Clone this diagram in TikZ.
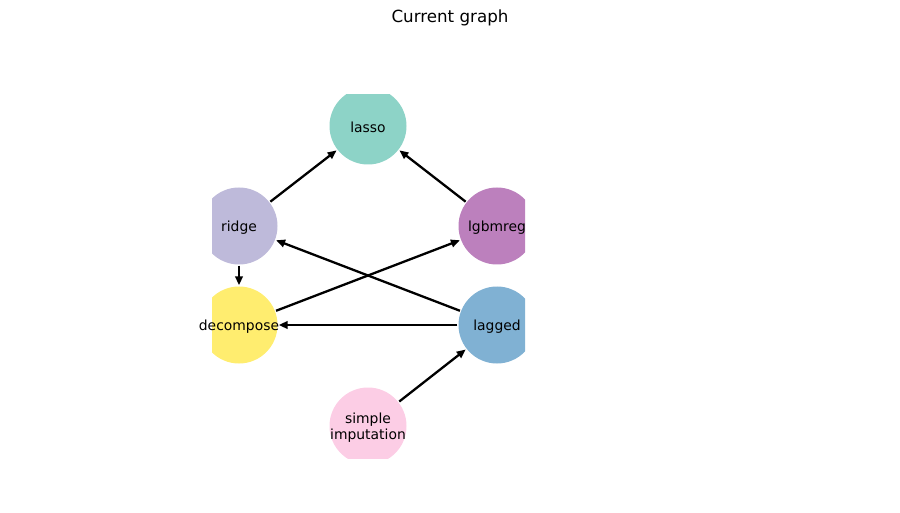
\documentclass[tikz,border=0pt]{standalone}
\usepackage{fontspec}
\setmainfont{DejaVu Sans}
\usetikzlibrary{arrows.meta}
\definecolor{cLasso}{HTML}{8DD3C7}
\definecolor{cRidge}{HTML}{BEBADA}
\definecolor{cLgbm}{HTML}{BC80BD}
\definecolor{cDecomp}{HTML}{FFED6F}
\definecolor{cLagged}{HTML}{80B1D3}
\definecolor{cSimple}{HTML}{FCCDE5}
\tikzset{
  vertex/.style={circle, minimum size=77pt, inner sep=0pt, draw=none},
  vlabel/.style={font=\fontsize{13.9pt}{16.5pt}\selectfont, align=center, inner sep=0pt, yshift=-1.5pt},
  edge/.style={line width=2.3pt, -{Triangle[length=9pt,width=7.5pt]}, shorten >=1pt, shorten <=1pt},
}
\begin{document}
\begin{tikzpicture}[x=1pt,y=-1pt]
\useasboundingbox (0,0) rectangle (900,513);
\node[font=\fontsize{16.7pt}{20pt}\selectfont] (title) at (450,18) {Current graph};
\begin{scope}
\clip (212,95) rectangle (525,458);
\node[vertex, fill=cLasso] (lasso) at (368,126) {};
\node[vertex, fill=cRidge] (ridge) at (239,226) {};
\node[vertex, fill=cLgbm] (lgbm) at (497,226) {};
\node[vertex, fill=cDecomp] (decomp) at (239,325) {};
\node[vertex, fill=cLagged] (lagged) at (497,325) {};
\node[vertex, fill=cSimple] (simple) at (368,426) {};
\end{scope}
\node[vlabel] (tlasso) at (lasso) {lasso};
\node[vlabel] (tridge) at (ridge) {ridge};
\node[vlabel] (tlgbm) at (lgbm) {lgbmreg};
\node[vlabel] (tdecomp) at (decomp) {decompose};
\node[vlabel] (tlagged) at (lagged) {lagged};
\node[vlabel] (tsimple) at (simple) {simple\\imputation};
\draw[edge] (ridge) -- (lasso);
\draw[edge] (lgbm) -- (lasso);
\draw[edge] (ridge) -- (decomp);
\draw[edge] (decomp) -- (lgbm);
\draw[edge] (lagged) -- (ridge);
\draw[edge] (lagged) -- (decomp);
\draw[edge] (simple) -- (lagged);
\end{tikzpicture}
\end{document}
